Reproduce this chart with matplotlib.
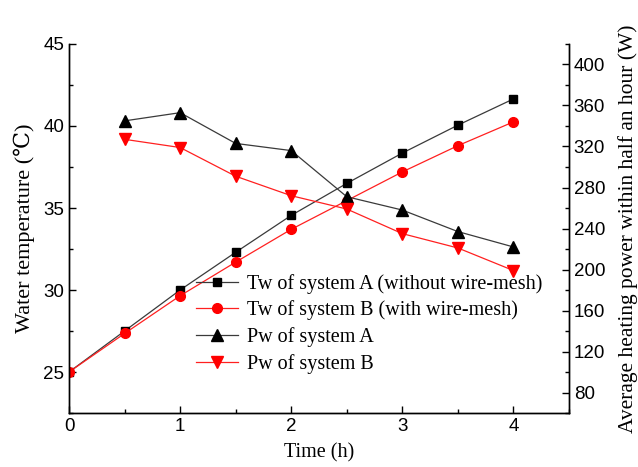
import matplotlib.pyplot as plt
from matplotlib.ticker import MultipleLocator

# Data
time_h = [0, 0.5, 1, 1.5, 2, 2.5, 3, 3.5, 4]
tw_a = [25.0, 27.5, 30.0, 32.3, 34.55, 36.5, 38.35, 40.05, 41.65]
tw_b = [25.0, 27.35, 29.65, 31.7, 33.7, 35.45, 37.2, 38.8, 40.25]

time_p = [0.5, 1, 1.5, 2, 2.5, 3, 3.5, 4]
pw_a = [345, 353, 323, 316, 271, 258, 237, 222]
pw_b = [327, 319, 291, 272, 259, 235, 221, 199]

serif = ['Liberation Serif', 'DejaVu Serif']
sans = ['Liberation Sans', 'DejaVu Sans']
plt.rcParams['font.family'] = sans

fig = plt.figure(figsize=(6.38, 4.67), dpi=100)
ax = fig.add_axes([0.1082, 0.1156, 0.7836, 0.7902])
ax2 = ax.twinx()

l1, = ax.plot(time_h, tw_a, color='#3a3a3a', lw=0.9, marker='s', ms=6,
              mfc='black', mec='black', label='Tw of system A (without wire-mesh)')
l2, = ax.plot(time_h, tw_b, color='#ff2020', lw=0.9, marker='o', ms=7,
              mfc='#ff0000', mec='#ff0000', label='Tw of system B (with wire-mesh)')
l3, = ax2.plot(time_p, pw_a, color='#3a3a3a', lw=0.9, marker='^', ms=8,
               mfc='black', mec='black', label='Pw of system A')
l4, = ax2.plot(time_p, pw_b, color='#ff2020', lw=0.9, marker='v', ms=8,
               mfc='#ff0000', mec='#ff0000', label='Pw of system B')

ax.set_xlim(0, 4.5)
ax.set_ylim(22.5, 45)
ax2.set_ylim(60, 420)

ax.xaxis.set_major_locator(MultipleLocator(1))
ax.xaxis.set_minor_locator(MultipleLocator(0.5))
ax.yaxis.set_major_locator(MultipleLocator(5))
ax.yaxis.set_minor_locator(MultipleLocator(2.5))
ax2.yaxis.set_major_locator(MultipleLocator(40))
ax2.yaxis.set_minor_locator(MultipleLocator(20))
ax2.set_yticks(range(80, 401, 40))

for a in (ax, ax2):
    a.spines['top'].set_visible(False)
    for s in a.spines.values():
        s.set_linewidth(1.0)
    a.tick_params(which='major', direction='in', length=5, width=1, labelsize=13.5)
    a.tick_params(which='minor', direction='in', length=3, width=1)
ax.tick_params(axis='x', which='both', top=False)
ax.tick_params(axis='y', which='both', right=False)

ax.set_xlabel('Time (h)', fontfamily=serif, fontsize=14.5, labelpad=6)
ax.set_ylabel('Water temperature (℃)', fontfamily=serif, fontsize=16, labelpad=6)
ax2.set_ylabel('Average heating power within half an hour (W)', fontfamily=serif,
               fontsize=15.5, labelpad=9)

leg = ax.legend(handles=[l1, l2, l3, l4], loc='lower right',
                bbox_to_anchor=(0.962, 0.085), frameon=False,
                prop={'family': serif, 'size': 14.5}, handlelength=2.1,
                handletextpad=0.4, labelspacing=0.33, borderaxespad=0.0)

fig.savefig('out.png', dpi=100)
